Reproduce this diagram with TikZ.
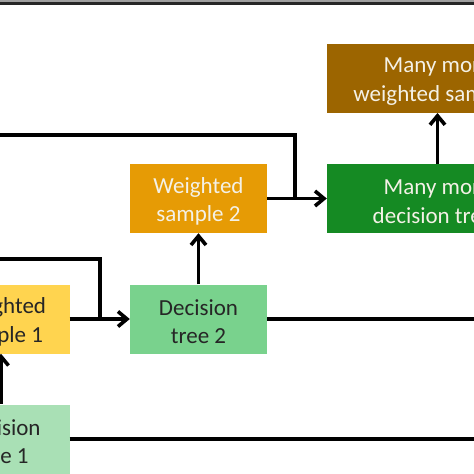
\documentclass[tikz,border=0pt]{standalone}
\usepackage{fontspec}
\setmainfont{Carlito}
\usetikzlibrary{arrows.meta}
\definecolor{cbrown}{HTML}{9C6500}
\definecolor{cdgreen}{HTML}{158A23}
\definecolor{corange}{HTML}{E69B05}
\definecolor{cyellow}{HTML}{FFD44F}
\definecolor{cmgreen}{HTML}{79D28D}
\definecolor{clgreen}{HTML}{A9E0B5}
\definecolor{cdark}{HTML}{262626}
\definecolor{clight}{HTML}{F4F1E6}
\newcommand\mystrut{\rule{0pt}{21.5pt}}
\begin{document}
\begin{tikzpicture}[x=1pt,y=-1pt,
  boxnode/.style={rectangle, inner sep=0pt, minimum width=137pt, minimum height=69pt,
    align=center, font=\fontsize{23}{28.5}\selectfont},
  widebox/.style={boxnode, minimum width=221pt},
  lighttext/.style={text=clight},
  darktext/.style={text=cdark},
  conn/.style={line width=3.6pt, draw=black},
  arr/.style={conn, -{Straight Barb[length=9pt,width=15pt]}}]
\useasboundingbox (0,0) rectangle (474,474);
\fill[gray!75] (0,0) rectangle (474,2.2);
\fill[black!85] (0,2.2) rectangle (474,5);
\node[widebox, fill=cbrown, lighttext] (mmws) at (437.5,78.3) {\mystrut Many more\\weighted samples};
\node[widebox, fill=cdgreen, lighttext] (mmdt) at (437.5,198.5) {\mystrut Many more\\decision trees};
\node[boxnode, fill=corange, lighttext] (ws2) at (198.5,198.5) {\mystrut Weighted\\sample 2};
\node[boxnode, fill=cmgreen, darktext] (dt2) at (198.5,319) {\mystrut Decision\\tree 2};
\node[boxnode, fill=cyellow, darktext] (ws1) at (1,319) {\mystrut Weighted\\sample 1};
\node[boxnode, fill=clgreen, darktext] (dt1) at (1,439) {\mystrut Decision\\tree 1};
\coordinate (inA) at (-10,135);
\coordinate (jA) at (295,198.5);
\coordinate (inB) at (-10,259);
\coordinate (jB) at (100,319);
\coordinate (outA) at (484,319);
\coordinate (outB) at (484,439);
\draw[arr] (ws2.east) -- (mmdt.west);
\draw[arr] (ws1.east) -- (dt2.west);
\draw[arr] (dt1.north) -- (ws1.south);
\draw[arr] (dt2.north) -- (ws2.south);
\draw[arr] (mmdt.north) -- (mmws.south);
\draw[conn] (inA) -| (jA);
\draw[conn] (inB) -| (jB);
\draw[conn] (dt2.east) -- (outA);
\draw[conn] (dt1.east) -- (outB);
\end{tikzpicture}
\end{document}
